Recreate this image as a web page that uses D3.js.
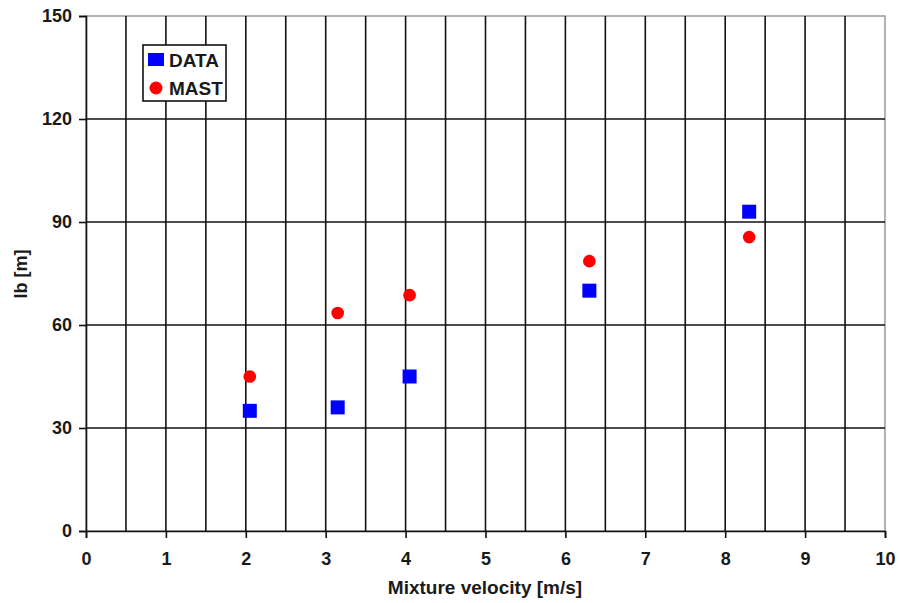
<!DOCTYPE html>
<html>
<head>
<meta charset="utf-8">
<script src="https://cdn.jsdelivr.net/npm/d3@7"></script>
<style>
  body { margin: 0; background: #fff; }
  text { font-family: "Liberation Sans", Arial, sans-serif; font-weight: bold; fill: #1a1a1a; }
</style>
</head>
<body>
<svg id="chart" width="900" height="603"></svg>
<script>
// values
var velocity = [2.05, 3.15, 4.05, 6.3, 8.3]
  , dataLb = [35, 36, 45, 70, 93]
  , mastLb = [45, 63.5, 68.7, 78.6, 85.6]
  , xTicks = [0, 1, 2, 3, 4, 5, 6, 7, 8, 9, 10]
  , xGrid = [0.5, 1, 1.5, 2, 2.5, 3, 3.5, 4, 4.5, 5, 5.5, 6, 6.5, 7, 7.5, 8, 8.5, 9, 9.5]
  , yTicks = [0, 30, 60, 90, 120, 150]
  , seriesNames = ['DATA', 'MAST']

var svg = d3.select('svg#chart')
  , pLeft = 86, pRight = 885, pTop = 16, pBottom = 531

var x = d3.scaleLinear().domain([0, 10]).range([pLeft, pRight])
  , y = d3.scaleLinear().domain([0, 150]).range([pBottom, pTop])

// plot frame (grey top/right)
svg.append('rect')
  .attr('x', pLeft).attr('y', pTop)
  .attr('width', pRight - pLeft).attr('height', pBottom - pTop)
  .attr('fill', 'none').attr('stroke', '#9a9a9a').attr('stroke-width', 1.5)

// grid
svg.append('g').selectAll('line').data(xGrid)
  .enter().append('line')
  .attr('x1', function(d) { return x(d) }).attr('x2', function(d) { return x(d) })
  .attr('y1', pTop).attr('y2', pBottom)
  .attr('stroke', '#111').attr('stroke-width', 1.6)

svg.append('g').selectAll('line').data(yTicks.slice(1, -1))
  .enter().append('line')
  .attr('x1', pLeft).attr('x2', pRight)
  .attr('y1', function(d) { return y(d) }).attr('y2', function(d) { return y(d) })
  .attr('stroke', '#111').attr('stroke-width', 1.6)

// axes
var xAxis = svg.append('g')
  .attr('transform', 'translate(0,' + pBottom + ')')
  .call(d3.axisBottom(x).tickValues(xTicks).tickSize(7).tickPadding(14).tickFormat(d3.format('d')))
var yAxis = svg.append('g')
  .attr('transform', 'translate(' + pLeft + ',0)')
  .call(d3.axisLeft(y).tickValues(yTicks).tickSize(7).tickPadding(7).tickFormat(d3.format('d')))

;[xAxis, yAxis].forEach(function(a) {
  a.select('.domain').attr('stroke', '#111').attr('stroke-width', 1.6)
  a.selectAll('.tick line').attr('stroke', '#111').attr('stroke-width', 1.6)
  a.selectAll('.tick text').style('font-size', '18px').style('font-family', '"Liberation Sans", Arial, sans-serif')
})

// points
svg.append('g').selectAll('rect').data(velocity)
  .enter().append('rect')
  .attr('x', function(d) { return x(d) - 7 })
  .attr('y', function(d, i) { return y(dataLb[i]) - 7 })
  .attr('width', 14).attr('height', 14)
  .attr('fill', '#0000ff')

svg.append('g').selectAll('circle').data(velocity)
  .enter().append('circle')
  .attr('cx', function(d) { return x(d) })
  .attr('cy', function(d, i) { return y(mastLb[i]) })
  .attr('r', 6.3)
  .attr('fill', '#ff0000')

// axis titles
svg.append('text')
  .attr('x', 485).attr('y', 594)
  .attr('text-anchor', 'middle').style('font-size', '19px')
  .text('Mixture velocity [m/s]')

svg.append('text')
  .attr('transform', 'translate(27,274) rotate(-90)')
  .attr('text-anchor', 'middle').style('font-size', '18px')
  .text('lb [m]')

// legend
var legend = svg.append('g').attr('transform', 'translate(143,45)')
legend.append('rect')
  .attr('width', 83).attr('height', 56)
  .attr('fill', '#fff').attr('stroke', '#111').attr('stroke-width', 1.6)
legend.append('rect')
  .attr('x', 5).attr('y', 8).attr('width', 16).attr('height', 13)
  .attr('fill', '#0000ff')
legend.append('circle')
  .attr('cx', 13).attr('cy', 43).attr('r', 6.5)
  .attr('fill', '#ff0000')
legend.selectAll('text.label').data(seriesNames)
  .enter().append('text').attr('class', 'label')
  .attr('x', 26).attr('y', function(d, i) { return 22 + i * 28 })
  .style('font-size', '19px')
  .text(function(d) { return d })
</script>
</body>
</html>
